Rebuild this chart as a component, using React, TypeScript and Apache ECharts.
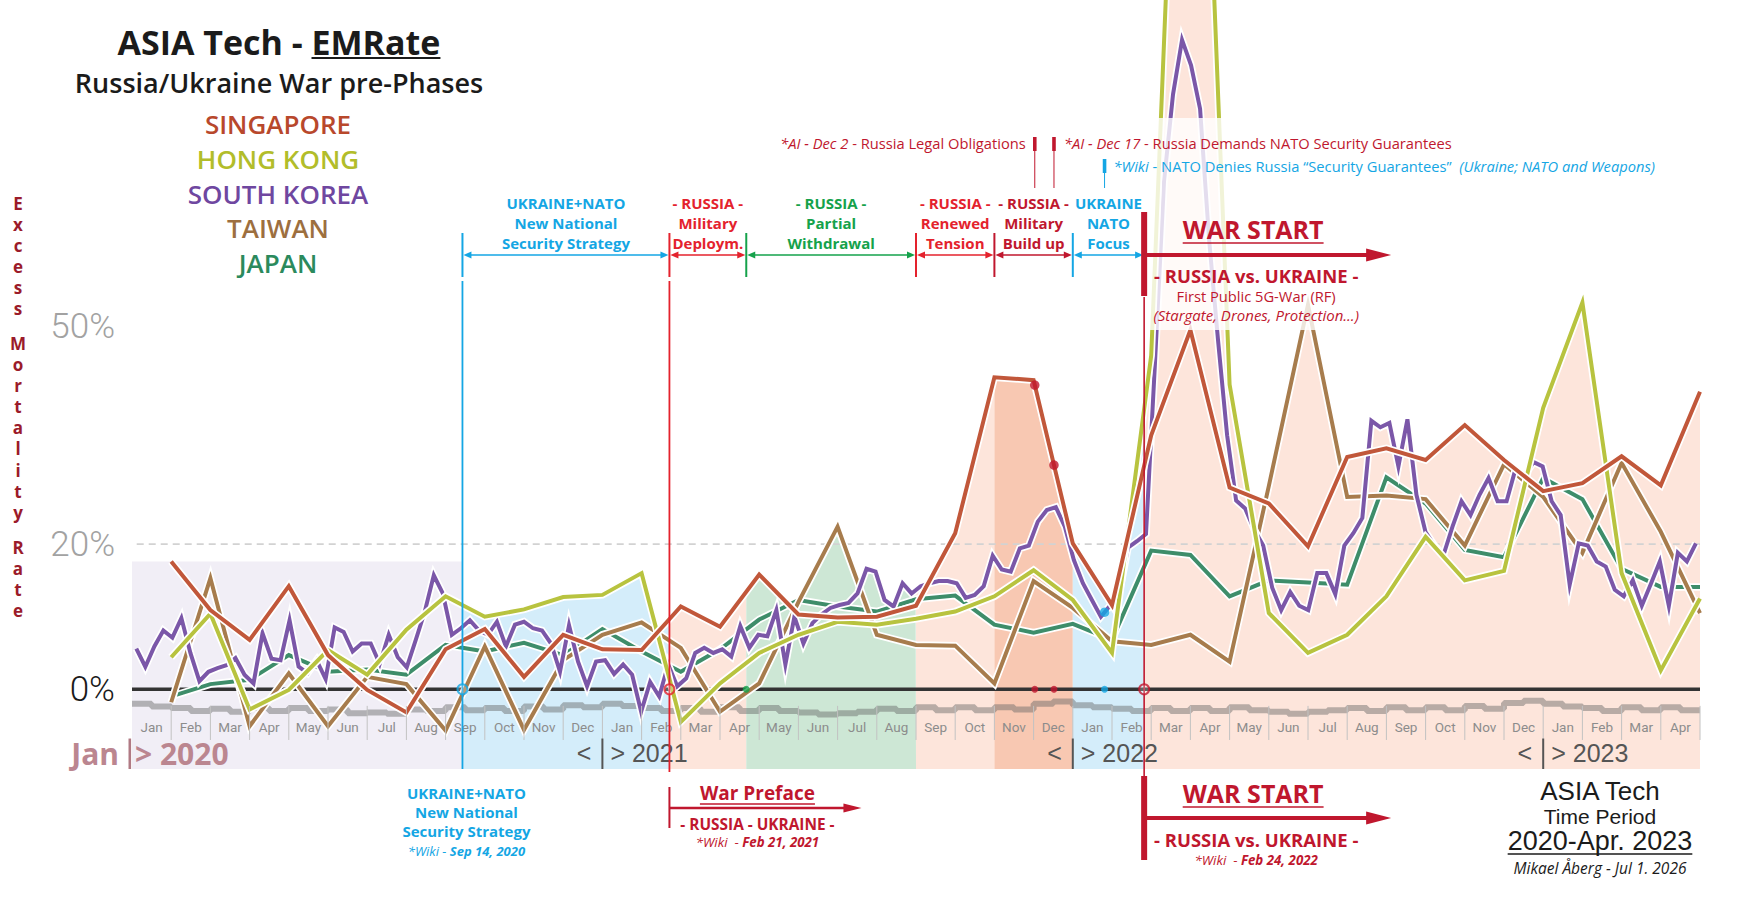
import React, { useEffect, useRef } from "react";
import * as echarts from "echarts";

const W = 1754;
const H = 906;

// ---------- DATA ----------
const monthNames = ["Jan", "Feb", "Mar", "Apr", "May", "Jun", "Jul", "Aug", "Sep", "Oct", "Nov", "Dec"];
const monthLabels = Array.from({ length: 40 }, (_, i) => monthNames[i % 12]); // Jan 2020 .. Apr 2023
const yearLabels = ["2020", "2021", "2022", "2023"];
const yTickValues = [0, 20, 50];

const countries = ["SINGAPORE", "HONG KONG", "SOUTH KOREA", "TAIWAN", "JAPAN"];
const countryLineColors = ["#c1573a", "#b8c33f", "#7b57a8", "#a77c4d", "#3e8d6a"];
const countryTextColors = ["#b8482c", "#b2bd2a", "#6f47a0", "#9d6f3f", "#2b8a5d"];

// Monthly excess mortality (%), one value per month end, Feb 2020 .. Apr 2023 (month index 1..40)
const singapore = [17.6, 10.9, 6.8, 14.2, 4.7, -0.1, -3.2, 5.5, 8.3, 1.7, 7.5, 5.5, 5.4, 11.4, 8.6, 15.8, 10.3, 9.9, 10.0, 11.5, 21.5, 43.0, 42.6, 20.1, 11.6, 35.0, 49.5, 27.8, 25.6, 19.7, 32.0, 33.2, 31.6, 36.4, 31.6, 27.3, 28.4, 32.1, 28.1, 41.0];
const hongKong = [4.4, 10.4, -2.8, -0.1, 5.4, 2.0, 8.2, 12.8, 10.0, 11.0, 12.7, 13.0, 16.0, -4.5, 0.8, 5.0, 7.5, 9.3, 8.9, 9.7, 10.7, 12.8, 16.4, 12.3, 5.0, 46.0, 178.0, 42.0, 10.5, 5.0, 7.5, 12.8, 21.0, 15.0, 16.3, 38.8, 53.3, 16.0, 2.6, 12.5];
const taiwan = [-1.8, 15.3, -5.1, 2.2, -5.1, 1.7, 0.7, -5.7, 5.9, -5.6, 4.0, 7.5, 9.2, 5.7, -3.1, 0.8, 12.0, 22.4, 7.5, 6.1, 6.0, 0.8, 14.9, 11.2, 6.6, 6.1, 7.5, 3.8, 28.0, 53.0, 26.5, 26.7, 26.2, 19.8, 31.0, 26.5, 18.8, 31.2, 21.7, 10.5];
const japan = [-1.0, 0.7, 1.3, 4.7, 2.4, 2.7, 2.0, 6.1, 5.2, 6.4, 4.7, 8.3, 5.2, 2.4, 5.5, 9.6, 12.3, 11.4, 10.7, 12.4, 12.9, 8.9, 7.8, 9.0, 6.8, 19.1, 18.5, 12.8, 15.0, 14.7, 14.4, 29.2, 25.6, 19.2, 18.2, 29.1, 26.2, 16.6, 14.1, 14.1];
// Weekly excess mortality (%) for South Korea, first week of Jan 2020 onwards
const southKoreaWeekly = [
  5.6, 3.1, 5.9, 8.1, 7.1, 9.8, 5.0, 1.1, 2.4, 2.9,
  3.3, 4.3, 2.0, 0.8, 7.7, 4.2, 4.0, 9.5, 3.1, 2.2,
  4.0, 1.4, 8.5, 7.9, 5.2, 6.3, 6.3, 3.5, 7.5, 4.4,
  3.0, 6.8, 10.7, 15.7, 13.2, 7.5, 8.4, 9.5, 8.1, 7.5,
  9.3, 5.9, 8.9, 9.3, 8.4, 8.1, 6.3, 2.4, 8.8, 3.8,
  0.4, 3.8, 4.0, 2.1, 3.4, 2.0, -3.1, 1.0, -1.0, 3.4,
  0.4, 1.5, 5.0, 5.7, 5.0, 5.5, 4.5, 8.7, 5.7, 7.5,
  7.3, 10.9, 3.4, 10.0, 6.3, 9.1, 10.3, 11.2, 11.6, 11.9,
  13.2, 16.6, 16.2, 12.3, 11.4, 14.6, 13.2, 14.2, 14.6, 14.9,
  14.9, 14.6, 12.6, 13.0, 14.2, 18.4, 16.5, 16.2, 19.4, 19.8,
  23.1, 24.7, 25.1, 22.4, 17.8, 14.6, 12.3, 10.0, 11.5, 13.0,
  19.5, 20.4, 21.4, 45.0, 70.0, 82.0, 89.5, 86.0, 80.0, 62.0,
  48.0, 35.0, 26.0, 24.9, 22.0, 19.8, 14.0, 10.9, 13.4, 11.5,
  10.9, 16.0, 16.0, 13.1, 19.8, 21.5, 23.6, 37.0, 36.1, 36.7,
  30.7, 37.2, 26.8, 21.7, 19.8, 18.5, 22.4, 25.9, 24.0, 26.8,
  29.1, 25.9, 25.9, 30.4, 29.5, 31.3, 30.7, 25.9, 24.0, 14.4,
  20.1, 19.8, 17.6, 16.9, 13.7, 12.8, 15.0, 11.5, 14.5, 17.6,
  11.5, 18.8, 17.6, 20.1,
];
const SK_START = 0.11; // month index of first weekly value
const WEEK = 12 / 52.18; // one week in months

// Expected-baseline band (%), half-month steps from Jan 2020
const baseline = [
  -2.0, -2.4, -2.6, -3.0, -2.7, -3.1, -2.6, -3.0, -2.6, -3.0, -2.8, -3.3, -3.2, -3.4, -2.8, -3.0, -2.5, -2.9, -2.6, -3.0, -2.4, -2.8, -2.2, -2.5,
  -2.0, -2.3, -2.6, -3.0, -2.6, -3.1, -2.5, -3.0, -2.6, -3.0, -3.2, -3.5, -3.3, -3.1, -2.7, -3.0, -2.5, -2.9, -2.5, -2.9, -2.5, -2.8, -2.0, -1.7,
  -2.2, -2.5, -2.7, -3.0, -2.6, -3.0, -2.6, -3.0, -2.5, -2.9, -3.1, -3.4, -3.1, -2.9, -2.6, -3.0, -2.5, -2.9, -2.5, -2.9, -2.3, -2.7, -1.9, -1.6,
  -2.0, -2.4, -2.6, -3.0, -2.5, -2.9, -2.5, -2.9,
];

// Event dates as month index from Jan 1 2020
const EV_SEP14 = 8.43;
const EV_FEB21 = 13.71;
const EV_APR = 15.67;
const EV_DEC2 = 23.03;
const EV_DEC17 = 23.52;
const EV_JAN26 = 24.81;
const EV_WAR = 25.82;

const phaseBounds = [0, EV_SEP14, EV_FEB21, EV_APR, 20, 22, 24, EV_WAR, 40];
const phaseFills = ["#f1eef6", "#d4edfa", "#fde5db", "#cde7d5", "#fde5db", "#f8c8b2", "#d4edfa", "#fde5db"];

const BLUE = "#14a6e4";
const RED = "#e4222d";
const DARKRED = "#c0172e";
const GREEN = "#15a24b";

const brackets = [
  { from: EV_SEP14, to: EV_FEB21, color: BLUE, lines: ["UKRAINE+NATO", "New National", "Security Strategy"] },
  { from: EV_FEB21, to: EV_APR, color: RED, lines: ["- RUSSIA -", "Military", "Deploym."] },
  { from: EV_APR, to: 20, color: GREEN, lines: ["- RUSSIA -", "Partial", "Withdrawal"] },
  { from: 20, to: 22, color: RED, lines: ["- RUSSIA -", "Renewed", "Tension"] },
  { from: 22, to: 24, color: DARKRED, lines: ["- RUSSIA -", "Military", "Build up"] },
  { from: 24, to: EV_WAR, color: BLUE, lines: ["UKRAINE", "NATO", "Focus"] },
];

// ---------- HELPERS ----------
const OPEN = '"Open Sans", "Noto Sans", sans-serif';
const ARIAL = '"Liberation Sans", Arial, sans-serif';

const monthlyPts = (arr: number[]) => arr.map((v, i) => [i + 1, v]);
const sgPts = monthlyPts(singapore);
const hkPts = monthlyPts(hongKong);
const twPts = monthlyPts(taiwan);
const jpPts = monthlyPts(japan);
const skPts = southKoreaWeekly.map((v, i) => [SK_START + i * WEEK, v]);
const allPts = [sgPts, hkPts, skPts, twPts, jpPts];

function interp(pts: number[][], x: number): number | null {
  if (x < pts[0][0] - 1e-9 || x > pts[pts.length - 1][0] + 1e-9) return null;
  for (let i = 0; i < pts.length - 1; i++) {
    const [x0, y0] = pts[i];
    const [x1, y1] = pts[i + 1];
    if (x >= x0 && x <= x1) return y0 + ((y1 - y0) * (x - x0)) / (x1 - x0);
  }
  return pts[pts.length - 1][1];
}
function envelope(x: number): number | null {
  let m: number | null = null;
  for (const p of allPts) {
    const v = interp(p, x);
    if (v !== null && (m === null || v > m)) m = v;
  }
  return m;
}
function samplePhase(a: number, b: number) {
  const xs: number[] = [];
  for (let x = a; x < b; x += 0.02) xs.push(x);
  allPts.forEach((p) => p.forEach(([x]) => { if (x > a && x < b) xs.push(x); }));
  xs.push(b);
  xs.sort((p, q) => p - q);
  return xs.map((x) => [x, envelope(x)]).filter((p) => p[1] !== null) as number[][];
}

let measureCtx: CanvasRenderingContext2D | null = null;
function measure(text: string, font: string) {
  if (!measureCtx) measureCtx = document.createElement("canvas").getContext("2d");
  measureCtx!.font = font;
  return measureCtx!.measureText(text).width;
}

function txt(x: number, y: number, text: string, o: any = {}) {
  return {
    type: "text",
    x,
    y,
    z: o.z,
    style: {
      text,
      fill: o.color || "#222",
      fontSize: o.size || 14,
      fontFamily: o.family || OPEN,
      fontWeight: o.weight || "normal",
      fontStyle: o.fstyle || "normal",
      align: o.align || "center",
      verticalAlign: o.valign || "middle",
      lineHeight: o.lineHeight,
      rich: o.rich,
    },
  };
}
function ln(x1: number, y1: number, x2: number, y2: number, color: string, w: number, z?: number) {
  return { type: "line", z, shape: { x1, y1, x2, y2 }, style: { stroke: color, lineWidth: w } };
}
function poly(points: number[][], color: string) {
  return { type: "polygon", shape: { points }, style: { fill: color } };
}
function rect(x: number, y: number, w: number, h: number, color: string, z?: number) {
  return { type: "rect", z, shape: { x, y, width: w, height: h }, style: { fill: color } };
}

// ---------- OPTION ----------
function buildOption() {
  const series: any[] = [];

  // phase fills (area under the upper envelope of all lines)
  for (let k = 0; k < phaseBounds.length - 1; k++) {
    const a = phaseBounds[k];
    const b = phaseBounds[k + 1];
    let pts = samplePhase(a, b);
    if (k === 0) {
      const top = Math.max(...pts.map((p) => p[1]));
      pts = [[a, top], [b, top]];
    }
    series.push({
      type: "line",
      name: "phase" + k,
      data: pts,
      symbol: "none",
      silent: true,
      lineStyle: { width: 0, opacity: 0 },
      areaStyle: { color: phaseFills[k], opacity: 1, origin: "start" },
      z: 1,
    });
  }

  // baseline band
  series.push({
    type: "line",
    name: "baseline",
    data: [...baseline.map((v, i) => [i * 0.5, v]), [40, baseline[baseline.length - 1]]],
    step: "end",
    symbol: "none",
    silent: true,
    lineStyle: { color: "rgba(100,100,100,0.45)", width: 6 },
    z: 2,
  });
  // 20% dashed guide
  series.push({
    type: "line",
    name: "guide20",
    data: [[0.12, 20], [40, 20]],
    symbol: "none",
    silent: true,
    lineStyle: { color: "#d2d2d2", width: 1.6, type: [7, 5] },
    z: 2,
  });
  // zero line
  series.push({
    type: "line",
    name: "zero",
    data: [[0, 0], [40, 0]],
    symbol: "none",
    silent: true,
    lineStyle: { color: "#333333", width: 3.5 },
    z: 2,
  });

  // country lines (white halo + colour)
  const order = [4, 3, 2, 1, 0]; // Japan, Taiwan, S.Korea, HK, Singapore
  const ptsByCountry = [sgPts, hkPts, skPts, twPts, jpPts];
  order.forEach((ci) => {
    series.push({
      type: "line",
      name: countries[ci] + " halo",
      data: ptsByCountry[ci],
      symbol: "none",
      silent: true,
      lineStyle: { color: "#ffffff", width: 7.5, join: "miter", miterLimit: 6 },
      z: 3,
    });
    series.push({
      type: "line",
      name: countries[ci],
      data: ptsByCountry[ci],
      symbol: "none",
      silent: true,
      lineStyle: { color: countryLineColors[ci], width: 4, join: "miter", miterLimit: 6 },
      z: 3,
    });
  });

  // month ticks + labels
  series.push({
    type: "custom",
    name: "months",
    silent: true,
    z: 4,
    data: monthLabels.map((_, i) => [i, 0]),
    renderItem: (params: any, api: any) => {
      const i = params.dataIndex;
      const [xl, yt] = api.coord([i, -2.3]);
      const yb = api.coord([i, -7.0])[1];
      const [xc, yl] = api.coord([i + 0.5, -5.2]);
      const children: any[] = [];
      if (i > 0) children.push(ln(xl, yt, xl, yb, "#c2c2c2", 1));
      if (i === monthLabels.length - 1) {
        const xr = api.coord([40, 0])[0];
        children.push(ln(xr, yt, xr, yb, "#c2c2c2", 1));
      }
      children.push(txt(xc, yl, monthLabels[i], { color: "#8c8c8c", size: 13.5, family: "Roboto, sans-serif" }));
      return { type: "group", children };
    },
  });

  // year labels
  series.push({
    type: "custom",
    name: "years",
    silent: true,
    z: 4,
    data: yearLabels.map((_, i) => [i * 12, 0]),
    renderItem: (params: any, api: any) => {
      const i = params.dataIndex;
      const x = api.coord([i * 12, 0])[0];
      const yc = api.coord([0, -8.8])[1];
      const yt = api.coord([0, -6.8])[1];
      const yb = api.coord([0, -11])[1];
      if (i === 0) {
        const c = "#bb8690";
        return {
          type: "group",
          children: [
            rect(x - 3.5, yt, 2.6, yb - yt, "#b07a84"),
            txt(x - 13, yc, "Jan", { color: c, size: 30, weight: "bold", align: "right" }),
            txt(x + 3, yc, "> " + yearLabels[i], { color: c, size: 30, weight: "bold", align: "left" }),
          ],
        };
      }
      return {
        type: "group",
        children: [
          ln(x, yt, x, yb, "#555555", 2),
          txt(x - 11, yc, "<", { color: "#555", size: 25, family: ARIAL, align: "right" }),
          txt(x + 8, yc, "> " + yearLabels[i], { color: "#555", size: 25, family: ARIAL, align: "left" }),
        ],
      };
    },
  });

  // annotation layer
  series.push({
    type: "custom",
    name: "annotations",
    silent: true,
    z: 120,
    data: [[0, 0]],
    renderItem: (_params: any, api: any) => {
      const X = (m: number) => api.coord([m, 0])[0];
      const els: any[] = [];
      // phase brackets
      brackets.forEach((b) => {
        const x1 = X(b.from);
        const x2 = X(b.to);
        els.push(ln(x1, 233, x1, 277, b.color, 2));
        els.push(ln(x1 + 6, 255, x2 - 6, 255, b.color, 1.3));
        els.push(poly([[x1 + 1, 255], [x1 + 9, 251.5], [x1 + 9, 258.5]], b.color));
        els.push(poly([[x2 - 1, 255], [x2 - 9, 251.5], [x2 - 9, 258.5]], b.color));
        const cx = (x1 + x2) / 2;
        b.lines.forEach((t, j) => els.push(txt(cx, 203 + j * 20, t, { color: b.color, size: 15, weight: "bold" })));
      });
      // event verticals through the plot
      const xs = X(EV_SEP14);
      const xf = X(EV_FEB21);
      const xw = X(EV_WAR);
      els.push(ln(xs, 281, xs, 769, BLUE, 1.8));
      els.push(ln(xf, 281, xf, 772, RED, 1.8));
      els.push(ln(xw, 297, xw, 776, DARKRED, 1.6));

      // top: Dec 2 / Dec 17 / Jan 26 markers
      const xd2 = X(EV_DEC2);
      const xd17 = X(EV_DEC17);
      const xj = X(EV_JAN26);
      els.push(rect(xd2 - 1.8, 137, 3.6, 14, DARKRED));
      els.push(ln(xd2, 151, xd2, 188, DARKRED, 1));
      els.push(rect(xd17 - 1.8, 137, 3.6, 14, DARKRED));
      els.push(ln(xd17, 151, xd17, 188, DARKRED, 1));
      els.push(rect(xj - 1.8, 159, 3.6, 14, BLUE));
      els.push(ln(xj, 173, xj, 188, BLUE, 1));
      const ES = 14.7;
      const richRed = { i: { fontStyle: "italic", fill: DARKRED, fontSize: ES, fontFamily: OPEN } };
      els.push(txt(xd2 - 9, 143, "{i|*AI - Dec 2} - Russia Legal Obligations", { color: DARKRED, size: ES, align: "right", rich: richRed }));
      els.push(txt(xd17 + 10, 143, "{i|*AI - Dec 17} - Russia Demands NATO Security Guarantees", { color: DARKRED, size: ES, align: "left", rich: richRed }));
      const richBlue = { i: { fontStyle: "italic", fill: BLUE, fontSize: ES, fontFamily: OPEN } };
      els.push(txt(xj + 9, 166, "{i|*Wiki} - NATO Denies Russia \u201CSecurity Guarantees\u201D  {i|(Ukraine; NATO and Weapons)}", { color: BLUE, size: ES, align: "left", rich: richBlue }));

      // top WAR START block
      const warFont = 'bold 25px "Open Sans"';
      const ww = measure("WAR START", warFont);
      const wc = xw + 109;
      els.push(rect(xw - 3, 212, 6, 84, DARKRED));
      els.push(ln(xw, 255, xw + 226, 255, DARKRED, 4));
      els.push(poly([[xw + 247, 255], [xw + 222, 248.5], [xw + 222, 261.5]], DARKRED));
      els.push(txt(wc, 229, "WAR START", { color: DARKRED, size: 25, weight: "bold" }));
      els.push(ln(wc - ww / 2, 243, wc + ww / 2, 243, DARKRED, 1.6));
      els.push(txt(wc + 3, 275, "- RUSSIA vs. UKRAINE -", { color: DARKRED, size: 18.5, weight: "bold" }));
      els.push(txt(wc + 3, 296, "First Public 5G-War (RF)", { color: DARKRED, size: 14.7 }));
      els.push(txt(wc + 3, 315, "(Stargate, Drones, Protection...)", { color: DARKRED, size: 15, fstyle: "italic" }));

      // bottom: UKRAINE+NATO
      els.push(txt(xs + 4, 793, "UKRAINE+NATO", { color: BLUE, size: 15, weight: "bold" }));
      els.push(txt(xs + 4, 812, "New National", { color: BLUE, size: 15, weight: "bold" }));
      els.push(txt(xs + 4, 831, "Security Strategy", { color: BLUE, size: 15, weight: "bold" }));
      els.push(txt(xs + 4, 851, "{i|*Wiki} - {b|Sep 14, 2020}", {
        color: BLUE, size: 13, fstyle: "italic",
        rich: { i: { fontStyle: "italic", fill: BLUE, fontSize: 13, fontFamily: OPEN }, b: { fontStyle: "italic", fontWeight: "bold", fill: BLUE, fontSize: 13, fontFamily: OPEN } },
      }));

      // bottom: War Preface
      const pf = 'bold 19px "Open Sans"';
      const pw = measure("War Preface", pf);
      const pc = xf + 88;
      els.push(ln(xf, 787, xf, 828, DARKRED, 2));
      els.push(ln(xf, 808, xf + 178, 808, DARKRED, 2.5));
      els.push(poly([[xf + 192, 808], [xf + 174, 803.5], [xf + 174, 812.5]], DARKRED));
      els.push(txt(pc, 793, "War Preface", { color: DARKRED, size: 19, weight: "bold" }));
      els.push(ln(pc - pw / 2, 804, pc + pw / 2, 804, DARKRED, 1.4));
      els.push(txt(pc, 824, "- RUSSIA - UKRAINE -", { color: DARKRED, size: 15.4, weight: "bold" }));
      const richW = { i: { fontStyle: "italic", fill: DARKRED, fontSize: 13.3, fontFamily: OPEN }, b: { fontStyle: "italic", fontWeight: "bold", fill: DARKRED, fontSize: 13.3, fontFamily: OPEN } };
      els.push(txt(pc, 842, "{i|*Wiki}  - {b|Feb 21, 2021}", { color: DARKRED, size: 13.3, rich: richW }));

      // bottom WAR START block
      els.push(rect(xw - 3, 776, 6, 84, DARKRED));
      els.push(ln(xw, 818, xw + 226, 818, DARKRED, 4));
      els.push(poly([[xw + 247, 818], [xw + 222, 811.5], [xw + 222, 824.5]], DARKRED));
      els.push(txt(wc, 793, "WAR START", { color: DARKRED, size: 25, weight: "bold" }));
      els.push(ln(wc - ww / 2, 807, wc + ww / 2, 807, DARKRED, 1.6));
      els.push(txt(wc + 3, 839, "- RUSSIA vs. UKRAINE -", { color: DARKRED, size: 18.5, weight: "bold" }));
      els.push(txt(wc + 3, 860, "{i|*Wiki}  - {b|Feb 24, 2022}", { color: DARKRED, size: 13.3, rich: richW }));

      return { type: "group", children: els };
    },
  });

  // event dots
  const dotsOnLines = [
    { value: [EV_DEC2, interp(sgPts, EV_DEC2)], c: DARKRED },
    { value: [EV_DEC17, interp(sgPts, EV_DEC17)], c: DARKRED },
    { value: [EV_JAN26, interp(skPts, EV_JAN26)], c: BLUE },
  ];
  series.push({
    type: "scatter",
    name: "eventDots",
    silent: true,
    z: 130,
    symbolSize: 9.5,
    data: dotsOnLines.map((d) => ({ value: d.value, itemStyle: { color: d.c } })),
  });
  const dotsOnZero = [
    { x: EV_APR, c: GREEN },
    { x: EV_DEC2, c: DARKRED },
    { x: EV_DEC17, c: DARKRED },
    { x: EV_JAN26, c: BLUE },
  ];
  series.push({
    type: "scatter",
    name: "zeroDots",
    silent: true,
    z: 130,
    symbolSize: 7,
    data: dotsOnZero.map((d) => ({ value: [d.x, 0], itemStyle: { color: d.c } })),
  });
  const rings = [
    { x: EV_SEP14, c: BLUE },
    { x: EV_FEB21, c: RED },
    { x: EV_WAR, c: DARKRED },
  ];
  series.push({
    type: "scatter",
    name: "rings",
    silent: true,
    z: 130,
    symbolSize: 10,
    data: rings.map((d) => ({ value: [d.x, 0], itemStyle: { color: "rgba(255,255,255,0.3)", borderColor: d.c, borderWidth: 2 } })),
  });

  // static graphics
  const titleFont = 'bold 34px "Open Sans"';
  const tW = measure("ASIA Tech - EMRate", titleFont);
  const tPre = measure("ASIA Tech - ", titleFont);
  const tLeft = 279 - tW / 2;
  const rangeFont = '27px "Liberation Sans"';
  const rW = measure("2020-Apr. 2023", rangeFont);

  const graphics: any[] = [
    rect(1146, 118, 222, 212, "rgba(255,255,255,0.8)", 100),
    txt(279, 42, "ASIA Tech - EMRate", { color: "#1b1b1b", size: 34, weight: "bold", z: 110 }),
    ln(tLeft + tPre, 58, tLeft + tW, 58, "#1b1b1b", 2, 110),
    txt(279, 82, "Russia/Ukraine War pre-Phases", { color: "#1b1b1b", size: 27, weight: 600, z: 110 }),
    ...countries.map((c, i) => txt(278, 124 + i * 34.8, c, { color: countryTextColors[i], size: 26, weight: 600, z: 110 })),
    txt(18, 192.4, "Excess".split("").join("\n"), { color: "#9b1b2a", size: 17, weight: "bold", valign: "top", lineHeight: 21.2, z: 110 }),
    txt(18, 332.4, "Mortality".split("").join("\n"), { color: "#9b1b2a", size: 17, weight: "bold", valign: "top", lineHeight: 21.2, z: 110 }),
    txt(18, 536.4, "Rate".split("").join("\n"), { color: "#9b1b2a", size: 17, weight: "bold", valign: "top", lineHeight: 21.2, z: 110 }),
    txt(1600, 791, "ASIA Tech", { color: "#1b1b1b", size: 26, family: ARIAL, z: 110 }),
    txt(1600, 816, "Time Period", { color: "#1b1b1b", size: 21, family: ARIAL, z: 110 }),
    txt(1600, 841, "2020-Apr. 2023", { color: "#1b1b1b", size: 27, family: ARIAL, z: 110 }),
    ln(1600 - rW / 2, 854, 1600 + rW / 2, 854, "#1b1b1b", 1.6, 110),
    txt(1600, 868, "Mikael \u00C5berg - Jul 1. 2026", { color: "#1b1b1b", size: 15.5, fstyle: "italic", z: 110 }),
  ];

  return {
    animation: false,
    backgroundColor: "#ffffff",
    grid: { left: 132, right: 54, top: 0, bottom: 137, containLabel: false },
    xAxis: { type: "value", min: 0, max: 40, show: false },
    yAxis: {
      type: "value",
      min: -11,
      max: 95,
      splitLine: { show: false },
      axisLine: { show: false },
      axisTick: { show: false },
      axisLabel: {
        customValues: yTickValues,
        margin: 17,
        formatter: (v: number) => (v === 0 ? "{z|" + v + "%}" : "{g|" + v + "%}"),
        rich: {
          z: { color: "#1a1a1a", fontSize: 35, fontFamily: "Roboto, sans-serif", fontWeight: 300 },
          g: { color: "#a2a2a2", fontSize: 35, fontFamily: "Roboto, sans-serif", fontWeight: 300 },
        },
      },
    },
    graphic: { elements: graphics },
    series,
  };
}

export default function App() {
  const ref = useRef<HTMLDivElement>(null);
  useEffect(() => {
    const chart = echarts.init(ref.current!, null, { renderer: "svg" });
    chart.setOption(buildOption());
    return () => chart.dispose();
  }, []);
  return (
    <div
      ref={ref}
      style={{ position: "absolute", left: 0, top: 0, width: W, height: H, background: "#fff" }}
    />
  );
}
